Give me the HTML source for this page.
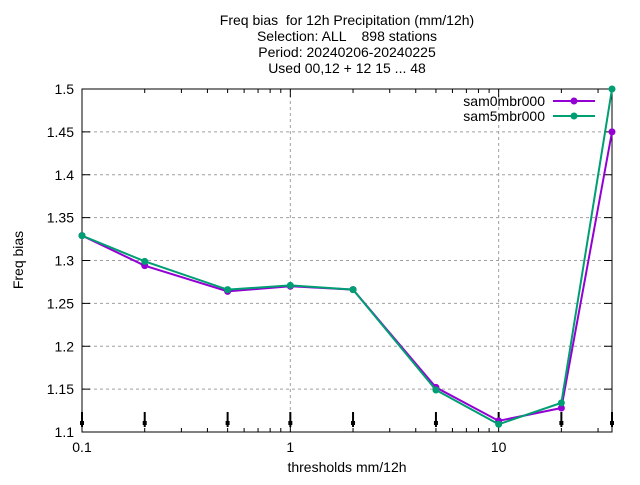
<!DOCTYPE html>
<html><head><meta charset="utf-8"><style>
body{margin:0;background:#fff;}
svg text{font-family:"Liberation Sans",sans-serif;font-size:14px;fill:#000;}
</style></head><body>
<svg width="640" height="480" xmlns="http://www.w3.org/2000/svg">
<g text-anchor="middle">
<text x="347" y="25" xml:space="preserve">Freq bias  for 12h Precipitation (mm/12h)</text>
<text x="347" y="41" xml:space="preserve">Selection: ALL    898 stations</text>
<text x="347" y="57">Period: 20240206-20240225</text>
<text x="347" y="73">Used 00,12 + 12 15 ... 48</text>
</g>
<g id="grid"></g>
<g id="axes"></g>
<g id="series"></g>
<text x="347" y="472" text-anchor="middle">thresholds mm/12h</text>
<text transform="translate(23,260) rotate(-90)" text-anchor="middle">Freq bias</text>
</svg>
<script>
const thresholds=[0.1,0.2,0.5,1,2,5,10,20,35];
const sam0=[1.329,1.294,1.264,1.270,1.266,1.152,1.113,1.128,1.45];
const sam5=[1.329,1.299,1.266,1.271,1.266,1.149,1.109,1.134,1.5];
const seriesNames=["sam0mbr000","sam5mbr000"];
const yTicks=[1.1,1.15,1.2,1.25,1.3,1.35,1.4,1.45,1.5];
const xTickLabels=[0.1,1,10];
const NS="http://www.w3.org/2000/svg";
const L=82,R=612,T=89,B=432,ymin=1.1,ymax=1.5;
const xmin=0.1,xmax=thresholds[thresholds.length-1];
const X=v=>L+(Math.log10(v)-Math.log10(xmin))/(Math.log10(xmax)-Math.log10(xmin))*(R-L);
const Y=v=>B-(v-ymin)/(ymax-ymin)*(B-T);
function mk(p,tag,a){const e=document.createElementNS(NS,tag);for(const k in a)e.setAttribute(k,a[k]);p.appendChild(e);return e;}
const grid=document.getElementById('grid'),axes=document.getElementById('axes'),ser=document.getElementById('series');
yTicks.forEach(t=>{const y=Y(t);
 if(t>ymin&&t<ymax){const g=mk(grid,'line',{x1:L,x2:R,y1:y,y2:y,stroke:'#a0a0a0','stroke-dasharray':'3,3','stroke-width':1});
 
 }
 mk(axes,'line',{x1:L,x2:L+8,y1:y,y2:y,stroke:'#000'});
 mk(axes,'line',{x1:R-8,x2:R,y1:y,y2:y,stroke:'#000'});
 const tx=mk(axes,'text',{x:L-8,y:y+5,'text-anchor':'end'});tx.textContent=String(t);
 
 
});
xTickLabels.forEach(t=>{const x=X(t);
 if(t>xmin){const g=mk(grid,'line',{x1:x,x2:x,y1:T,y2:B,stroke:'#a0a0a0','stroke-dasharray':'3,3'});
 
 }
 const tx=mk(axes,'text',{x:x,y:B+20,'text-anchor':'middle'});tx.textContent=String(t);
 
 
});
for(let d=0.1;d<xmax;d*=10){for(let m=1;m<10;m++){const v=d*m;if(v>xmax)break;const x=X(v);const len=m===1?8:4;
 mk(axes,'line',{x1:x,x2:x,y1:B,y2:B-len,stroke:'#000'});mk(axes,'line',{x1:x,x2:x,y1:T,y2:T+len,stroke:'#000'});}}
mk(axes,'rect',{x:L,y:T,width:R-L,height:B-T,fill:'none',stroke:'#000','stroke-width':1});
thresholds.forEach(t=>{const x=X(t);
 const m=mk(axes,'line',{x1:x,x2:x,y1:B-20,y2:B-5,stroke:'#000','stroke-width':2});
 
 
 mk(axes,'rect',{x:x-2,y:B-11,width:4,height:4,fill:'#000'});
});
const colors=['#9400d3','#009e73'];
[sam0,sam5].forEach((vals,i)=>{
 const g=mk(ser,'g',{});
 
 
 mk(g,'polyline',{points:vals.map((v,j)=>X(thresholds[j])+','+Y(v)).join(' '),fill:'none',stroke:colors[i],'stroke-width':2});
 vals.forEach((v,j)=>{const p=mk(g,'circle',{cx:X(thresholds[j]),cy:Y(v),r:3.5,fill:colors[i]});
  
  });
 const ly=101+i*15;
 const le=mk(ser,'g',{});
 
 
 const tx=mk(le,'text',{x:545,y:ly+5,'text-anchor':'end'});tx.textContent=seriesNames[i];
 mk(le,'line',{x1:553,x2:595,y1:ly,y2:ly,stroke:colors[i],'stroke-width':2});
 mk(le,'circle',{cx:574,cy:ly,r:3.5,fill:colors[i]});
});
</script>
</body></html>
